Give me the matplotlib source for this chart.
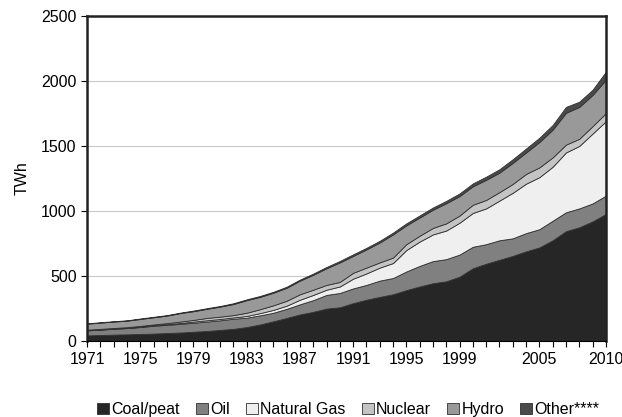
import numpy as np
from matplotlib import pyplot as plt

plt.rcParams['font.family'] = ['Liberation Sans', 'DejaVu Sans']

years = list(range(1971, 2011))

coal = [44, 47, 50, 52, 55, 58, 62, 66, 72, 78, 86, 94, 108, 128, 152, 178, 205, 225, 250, 260,
        292, 318, 340, 360, 392, 420, 445, 460, 495, 560, 595, 625, 655, 690, 720, 775, 845, 875, 920, 977]
oil = [38, 41, 45, 48, 53, 60, 63, 67, 69, 72, 74, 78, 72, 70, 66, 70, 78, 90, 105, 110,
       113, 114, 125, 125, 143, 158, 170, 170, 170, 165, 150, 150, 135, 140, 140, 150, 145, 145, 138, 141]
gas = [2, 2, 2, 2, 3, 4, 5, 6, 9, 10, 10, 10, 13, 17, 22, 24, 35, 40, 40, 50,
       75, 88, 100, 115, 165, 187, 205, 220, 245, 260, 275, 305, 350, 380, 400, 415, 460, 480, 537, 572]
nuclear = [4, 4, 4, 5, 6, 6, 8, 11, 13, 18, 18, 18, 25, 30, 35, 38, 42, 40, 37, 35,
           45, 45, 40, 42, 45, 45, 50, 55, 55, 63, 65, 65, 68, 75, 75, 72, 60, 55, 57, 62]
hydro = [46, 48, 49, 50, 53, 55, 58, 65, 67, 70, 77, 85, 97, 95, 97, 100, 105, 115, 128, 150,
         130, 140, 153, 178, 145, 140, 140, 155, 150, 142, 155, 150, 162, 165, 195, 213, 245, 245, 240, 256]
other = [3, 3, 3, 3, 4, 4, 4, 4, 5, 5, 5, 6, 6, 7, 7, 8, 8, 9, 10, 11,
         12, 12, 13, 14, 15, 16, 17, 18, 20, 22, 24, 26, 28, 30, 33, 36, 45, 40, 40, 62]

labels = ["Coal/peat", "Oil", "Natural Gas", "Nuclear", "Hydro", "Other****"]
colors = ['#262626', '#808080', '#efefef', '#c4c4c4', '#999999', '#4a4a4a']
shown_years = [1971, 1975, 1979, 1983, 1987, 1991, 1995, 1999, 2005, 2010]

fig = plt.figure(figsize=(6.22, 4.17), dpi=100)
ax = fig.add_axes([0.14, 0.182, 0.834, 0.78])

ax.stackplot(years, coal, oil, gas, nuclear, hydro, other, colors=colors, labels=labels,
             edgecolor='#303030', linewidth=0.6, zorder=2)

ax.set_xlim(1971, 2010)
ax.set_ylim(0, 2500)
ax.set_yticks(np.arange(0, 2501, 500))
ax.yaxis.grid(True, color='#c8c8c8', linewidth=0.8, zorder=0)
ax.set_axisbelow(True)

ax.set_xticks(years)
ax.set_xticklabels([str(y) if y in shown_years else '' for y in years])
ax.tick_params(axis='x', length=4, width=0.8, labelsize=11.5, pad=4)
ax.tick_params(axis='y', length=4, width=0.8, labelsize=11.5)
ax.set_ylabel("TWh", fontsize=11.5, labelpad=8)

for s in ['left', 'top', 'right']:
    ax.spines[s].set_linewidth(1.8)
    ax.spines[s].set_color('#222222')
ax.spines['bottom'].set_linewidth(0.8)

h, l = ax.get_legend_handles_labels()
fig.legend(h, l, loc='lower center', bbox_to_anchor=(0.56, -0.035), ncol=6, frameon=False,
           fontsize=11.5, handlelength=0.75, handleheight=0.75, handletextpad=0.15,
           columnspacing=1.0)

plt.savefig("out.png", dpi=100)
